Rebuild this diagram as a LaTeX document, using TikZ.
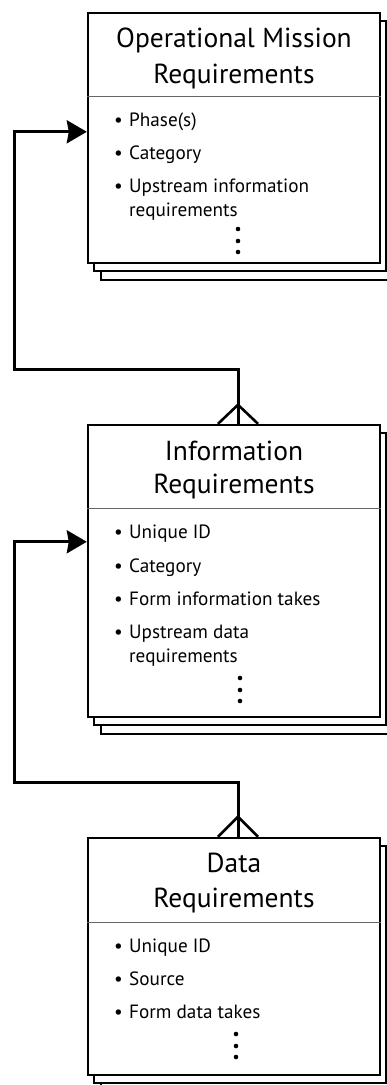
\documentclass[tikz,border=0pt]{standalone}
\usepackage{fontspec}
\setmainfont{PT Sans}
\usetikzlibrary{arrows.meta}
\begin{document}
\begin{tikzpicture}[x=1pt,y=-1pt,
  box/.style={draw, line width=2.4pt, fill=white, minimum width=292pt, inner sep=0pt},
  shbox/.style={draw, line width=2pt, fill=white, minimum width=292pt, inner sep=0pt},
  divider/.style={draw=black!60, line width=1.2pt},
  title/.style={font=\fontsize{27.5}{31}\selectfont, anchor=base, inner sep=0pt},
  item/.style={font=\fontsize{19.2}{23}\selectfont, anchor=base west, inner sep=0pt},
  conn/.style={line width=3pt, line join=miter},
  crow/.style={line width=2.6pt},
  vdot/.style={circle, fill=black, inner sep=0pt, minimum size=4.6pt},
  tip/.style={-{Stealth[length=20pt,width=23pt,inset=2pt]}}
]
\useasboundingbox (0,0) rectangle (387,1085);
\clip (0,0) rectangle (387,1085);

% ---------- Box 1: Operational Mission Requirements ----------
\node[shbox, minimum height=250pt] (omrB) at (247,155) {};
\node[shbox, minimum height=250pt] (omrA) at (240,146) {};
\node[box, minimum height=250pt] (omr) at (234,138) {};
\node[title] (omrT1) at (234,47) {Operational Mission};
\node[title] (omrT2) at (234,83) {Requirements};
\draw[divider] ([shift={(0,85)}]omr.north west) -- ([shift={(0,85)}]omr.north east);
\node[item] (omrI1) at (114,126) {\makebox[15pt][l]{•}Phase(s)};
\node[item] (omrI2) at (114,159) {\makebox[15pt][l]{•}Category};
\node[item] (omrI3) at (114,192) {\makebox[15pt][l]{•}Upstream information};
\node[item] (omrI3b) at (129,216) {requirements};
\node[vdot] (omrD1) at (238,229) {};
\node[vdot] (omrD2) at (238,241) {};
\node[vdot] (omrD3) at (238,252) {};

% ---------- Box 2: Information Requirements ----------
\node[shbox, minimum height=292pt] (irB) at (247,588) {};
\node[shbox, minimum height=292pt] (irA) at (240,579) {};
\node[box, minimum height=292pt] (ir) at (234,571) {};
\node[title] (irT1) at (234,460) {Information};
\node[title] (irT2) at (234,493) {Requirements};
\draw[divider] ([shift={(0,85)}]ir.north west) -- ([shift={(0,85)}]ir.north east);
\node[item] (irI1) at (114,538) {\makebox[15pt][l]{•}Unique ID};
\node[item] (irI2) at (114,572) {\makebox[15pt][l]{•}Category};
\node[item] (irI3) at (114,605) {\makebox[15pt][l]{•}Form information takes};
\node[item] (irI4) at (114,638) {\makebox[15pt][l]{•}Upstream data};
\node[item] (irI4b) at (129,662) {requirements};
\node[vdot] (irD1) at (240,678) {};
\node[vdot] (irD2) at (240,690) {};
\node[vdot] (irD3) at (240,701) {};

% ---------- Box 3: Data Requirements ----------
\node[shbox, minimum height=237pt] (drB) at (247,973.5) {};
\node[shbox, minimum height=237pt] (drA) at (240,964.5) {};
\node[box, minimum height=237pt] (dr) at (234,956.5) {};
\node[title] (drT1) at (234,872) {Data};
\node[title] (drT2) at (234,907) {Requirements};
\draw[divider] ([shift={(0,86)}]dr.north west) -- ([shift={(0,86)}]dr.north east);
\node[item] (drI1) at (114,952) {\makebox[15pt][l]{•}Unique ID};
\node[item] (drI2) at (114,985) {\makebox[15pt][l]{•}Source};
\node[item] (drI3) at (114,1018) {\makebox[15pt][l]{•}Form data takes};
\node[vdot] (drD1) at (236,1034) {};
\node[vdot] (drD2) at (236,1046) {};
\node[vdot] (drD3) at (236,1057) {};

% ---------- Connectors ----------
\coordinate (irTop) at ([xshift=4pt]ir.north);
\coordinate (irFoot) at ([shift={(0,-19)}]irTop);
\coordinate (c1) at (14,369);
\coordinate (omrIn) at ([shift={(0,120)}]omr.north west);
\draw[conn, tip] (irTop) |- (c1) |- (omrIn);
\draw[crow] ([xshift=-20pt]irTop) -- (irFoot) -- ([xshift=20pt]irTop);

\coordinate (drTop) at ([xshift=4pt]dr.north);
\coordinate (drFoot) at ([shift={(0,-20)}]drTop);
\coordinate (c2) at (14,782);
\coordinate (irIn) at ([shift={(0,118)}]ir.north west);
\draw[conn, tip] (drTop) |- (c2) |- (irIn);
\draw[crow] ([xshift=-20pt]drTop) -- (drFoot) -- ([xshift=20pt]drTop);
\end{tikzpicture}
\end{document}
